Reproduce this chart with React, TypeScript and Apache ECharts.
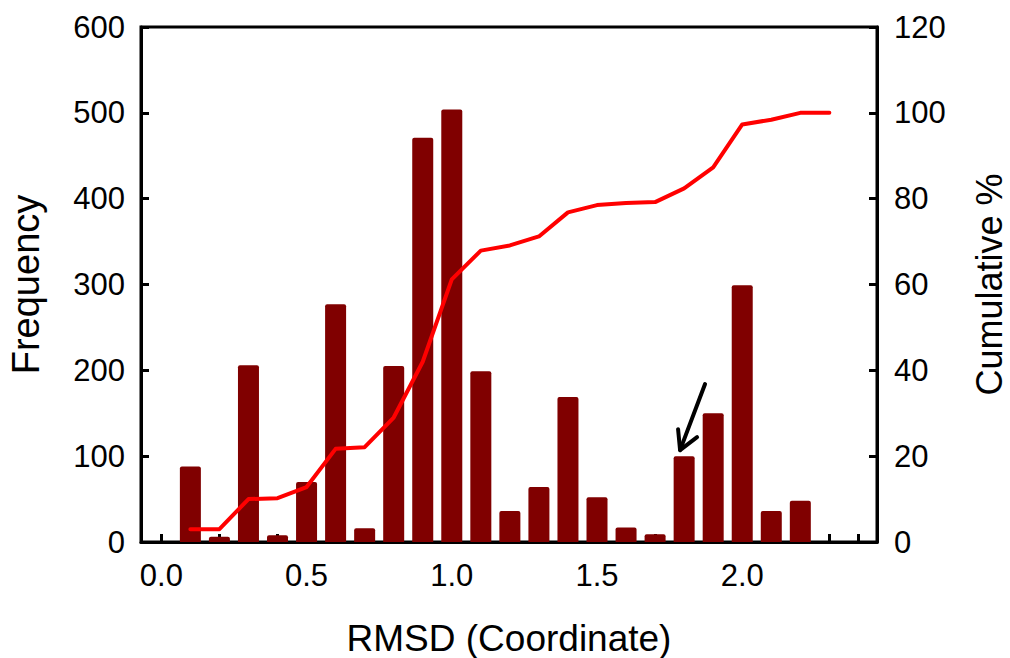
import React, { useEffect, useRef } from "react";
import * as echarts from "echarts";

const barX = [0.1, 0.2, 0.3, 0.4, 0.5, 0.6, 0.7, 0.8, 0.9, 1.0, 1.1, 1.2, 1.3, 1.4, 1.5, 1.6, 1.7, 1.8, 1.9, 2.0, 2.1, 2.2];
const frequency = [88, 6, 206, 8, 70, 277, 16, 205, 471, 504, 199, 36, 64, 169, 52, 17, 9, 100, 150, 299, 36, 48];
const cumX = [0.1, 0.2, 0.3, 0.4, 0.5, 0.6, 0.7, 0.8, 0.9, 1.0, 1.1, 1.2, 1.3, 1.4, 1.5, 1.6, 1.7, 1.8, 1.9, 2.0, 2.1, 2.2, 2.3];
const cumulative = [3, 3, 10, 10.2, 12.8, 21.7, 22.1, 29, 42, 61.2, 67.9, 69.1, 71.2, 76.8, 78.5, 79.0, 79.2, 82.4, 87.3, 97.3, 98.4, 100, 100];
const xTickValues = [0, 0.1, 0.2, 0.3, 0.4, 0.5, 0.6, 0.7, 0.8, 0.9, 1.0, 1.1, 1.2, 1.3, 1.4, 1.5, 1.6, 1.7, 1.8, 1.9, 2.0, 2.1, 2.2, 2.3, 2.4];
const xLabelValues = [0, 0.5, 1.0, 1.5, 2.0];
const arrowTail = [1.872, 184];
const arrowTip = [1.786, 107];

export default function App() {
  const ref = useRef<HTMLDivElement>(null);
  useEffect(() => {
    document.body.style.margin = "0";
    document.body.style.overflow = "hidden";
    const chart = echarts.init(ref.current!, null, { renderer: "svg" });
    const font = "Liberation Sans, Arial, sans-serif";
    const tickStyle = { color: "#000", width: 3 };
    chart.setOption({
      animation: false,
      backgroundColor: "#fff",
      textStyle: { fontFamily: font, color: "#000" },
      grid: {
        left: 141, right: 133, top: 27, bottom: 116,
        outerBoundsMode: "none", containLabel: false,
        show: true, borderColor: "#000", borderWidth: 3, backgroundColor: "transparent",
      },
      xAxis: {
        type: "value", min: -0.07, max: 2.464,
        name: "RMSD (Coordinate)", nameLocation: "middle", nameGap: 78,
        nameTextStyle: { fontSize: 37, lineHeight: 36, color: "#000", fontFamily: font },
        axisLine: { show: true, onZero: false, lineStyle: { color: "#000", width: 3 } },
        axisTick: { show: true, inside: true, length: 8, lineStyle: tickStyle, customValues: xTickValues },
        axisLabel: {
          fontSize: 31, color: "#000", margin: 18, fontFamily: font,
          customValues: xLabelValues, formatter: (v: number) => v.toFixed(1),
        },
        splitLine: { show: false },
      },
      yAxis: [
        {
          type: "value", min: 0, max: 600, interval: 100,
          name: "Frequency", nameLocation: "middle", nameGap: 96,
          nameTextStyle: { fontSize: 38, color: "#000", fontFamily: font },
          axisLine: { show: true, onZero: false, lineStyle: { color: "#000", width: 3 } },
          axisTick: { show: true, inside: true, length: 8, lineStyle: tickStyle },
          axisLabel: { fontSize: 31, color: "#000", margin: 16, fontFamily: font },
          splitLine: { show: false },
        },
        {
          type: "value", min: 0, max: 120, interval: 20, position: "right",
          name: "Cumulative %", nameLocation: "middle", nameGap: 94, nameRotate: 90,
          nameTextStyle: { fontSize: 36, color: "#000", fontFamily: font },
          axisLine: { show: true, onZero: false, lineStyle: { color: "#000", width: 3 } },
          axisTick: { show: true, inside: true, length: 8, lineStyle: tickStyle },
          axisLabel: { fontSize: 31, color: "#000", margin: 17, fontFamily: font },
          splitLine: { show: false },
        },
      ],
      series: [
        {
          type: "bar", xAxisIndex: 0, yAxisIndex: 0, barWidth: 21,
          data: barX.map((x, i) => [x, frequency[i]]),
          itemStyle: { color: "#800000", borderRadius: [2, 2, 0, 0] },
          z: 2,
        },
        {
          type: "line", xAxisIndex: 0, yAxisIndex: 1, showSymbol: false, symbol: "none",
          data: cumX.map((x, i) => [x, cumulative[i]]),
          lineStyle: { color: "#ff0000", width: 4, cap: "round", join: "round" },
          z: 3,
        },
      ],
    });
    const tail = chart.convertToPixel({ xAxisIndex: 0, yAxisIndex: 0 }, arrowTail) as number[];
    const tip = chart.convertToPixel({ xAxisIndex: 0, yAxisIndex: 0 }, arrowTip) as number[];
    const style = { stroke: "#000", lineWidth: 4, fill: "none", lineCap: "round", lineJoin: "round" };
    chart.setOption({
      graphic: [
        { type: "line", shape: { x1: tail[0], y1: tail[1], x2: tip[0], y2: tip[1] }, style, z: 10 },
        {
          type: "polyline",
          shape: { points: [[tip[0] - 2, tip[1] - 21], [tip[0], tip[1]], [tip[0] + 17, tip[1] - 13]] },
          style, z: 10,
        },
      ],
    });
    return () => chart.dispose();
  }, []);
  return <div ref={ref} style={{ width: 1010, height: 658, overflow: "hidden" }} />;
}
